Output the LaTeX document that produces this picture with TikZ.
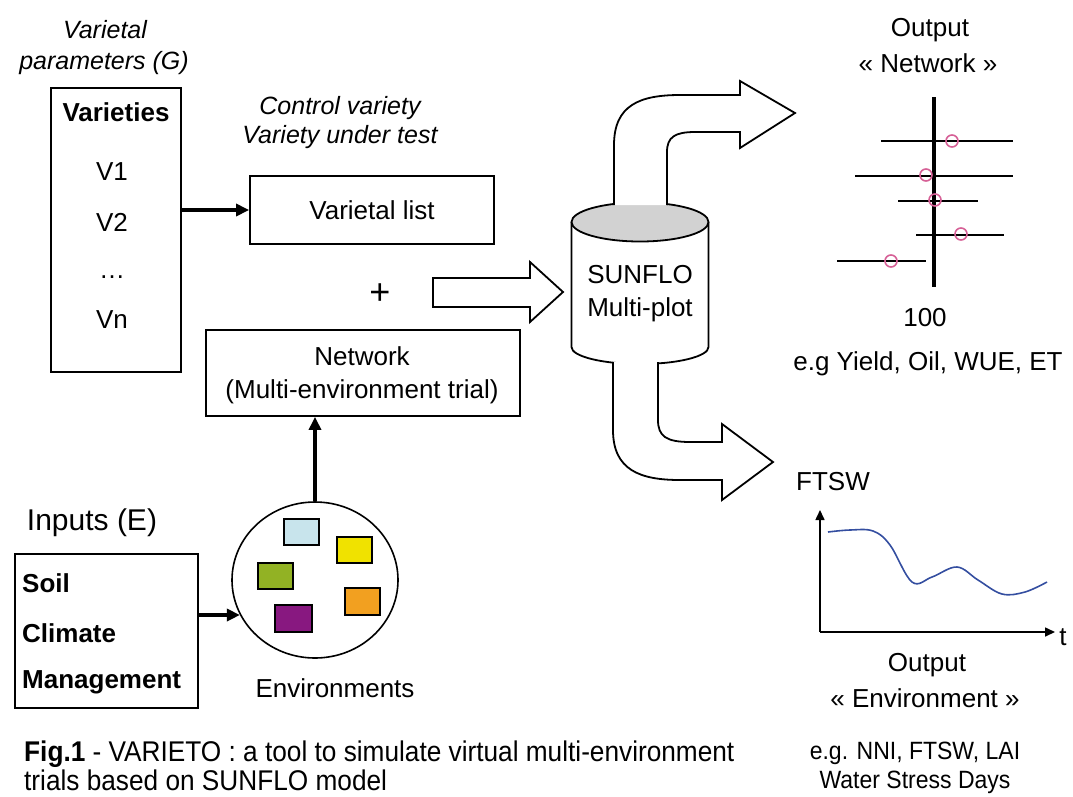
\documentclass[tikz,border=0pt]{standalone}
\usepackage{fontspec}
\setmainfont{Liberation Sans}
\newfontfamily\narrowsans[FakeStretch=0.92]{Liberation Sans}
\usetikzlibrary{arrows.meta,shapes.geometric}
\definecolor{pinkc}{RGB}{214,96,150}
\definecolor{curveblue}{RGB}{52,78,160}
\definecolor{envblue}{RGB}{200,228,236}
\definecolor{envyellow}{RGB}{240,226,0}
\definecolor{envgreen}{RGB}{146,178,36}
\definecolor{envorange}{RGB}{242,160,32}
\definecolor{envpurple}{RGB}{136,24,128}
\begin{document}
\begin{tikzpicture}[x=1pt,y=-1pt,
  txt/.style={font=\fontsize{26}{33}\selectfont, inner sep=0pt, align=center},
  itxt/.style={font=\fontsize{25}{33}\selectfont\itshape, inner sep=0pt, align=center},
  btxt/.style={font=\fontsize{26}{33}\selectfont\bfseries, inner sep=0pt},
  captxt/.style={font=\narrowsans\fontsize{28.5}{33}\selectfont, inner sep=0pt},
  rcaptxt/.style={font=\narrowsans\fontsize{25}{30}\selectfont, inner sep=0pt},
  boxnode/.style={draw, line width=1.8pt, inner sep=0pt},
  arr/.style={line width=3.5pt, -{Triangle[length=13pt,width=12pt]}},
  axarr/.style={line width=1.6pt, -{Triangle[length=10pt,width=9pt]}},
  blk/.style={draw, line width=1.8pt, fill=white, line join=miter},
  envrect/.style={draw, line width=1.5pt},
  errbar/.style={line width=2pt},
  pt/.style={draw=pinkc, line width=1.6pt}
]
\useasboundingbox (0,0) rectangle (1073,796);

% ---- Varietal parameters ----
\node[itxt] (vpar1) at (105,30) {Varietal};
\node[itxt] (vpar2) at (104,63) {parameters (G)};
\node[boxnode, minimum width=130pt, minimum height=284pt] (vbox) at (116,230) {};
\node[btxt] (vhead) at (116,112) {Varieties};
\node[txt] (v1) at (112,172) {V1};
\node[txt] (v2) at (112,222) {V2};
\node[txt] (vdots) at (112,277) {\dots};
\node[txt] (vn) at (112,320) {Vn};

% ---- Varietal list ----
\node[itxt] (ctrl1) at (340,108) {Control variety};
\node[itxt] (ctrl2) at (340,137) {Variety under test};
\node[boxnode, minimum width=244pt, minimum height=68pt] (vlist) at (372,210) {};
\node[txt] (vlisttxt) at (vlist) {Varietal list};
\draw[arr] (vbox.east |- vlist.west) -- (vlist.west);

% ---- plus ----
\node[font=\fontsize{36}{40}\selectfont, inner sep=0pt] (plus) at (380,294) {+};

% ---- Network box ----
\node[boxnode, minimum width=314pt, minimum height=86pt] (net) at (363,373) {};
\node[txt] (nettxt) at (362,375) {Network\\(Multi-environment trial)};

% ---- straight block arrow ----
\draw[blk] (433,278) -- (530,278) -- (530,262) -- (563,292) -- (530,322) -- (530,307) -- (433,307) -- cycle;

% ---- Cylinder ----
\fill[white] (571.5,222) -- (571.5,347) arc[start angle=180,end angle=360,x radius=68.5pt,y radius=17pt] -- (708.5,222) -- cycle;
\draw[line width=1.8pt] (571.5,222) -- (571.5,347) arc[start angle=180,end angle=360,x radius=68.5pt,y radius=17pt] -- (708.5,222);
\draw[line width=1.8pt, fill=gray!35] (640,222) ellipse [x radius=68.5pt, y radius=19.5pt];
\node[txt] (cyl) at (640,294) {SUNFLO\\Multi-plot};

% ---- upper curved block arrow ----
\draw[blk] (614,205) -- (614,145) .. controls (614,105) and (640,95) .. (680,95) -- (740,95) -- (740,81) -- (795,113) -- (740,148) -- (740,132) -- (695,132) .. controls (675,132) and (667,137) .. (667,152) -- (667,205);

% ---- lower curved block arrow ----
\draw[blk] (613,362) -- (613,430) .. controls (613,470) and (640,480) .. (680,480) -- (722,480) -- (722,500) -- (773,462) -- (722,424) -- (722,442) -- (690,442) .. controls (666,442) and (658,436) .. (658,420) -- (658,362);

% ---- Output Network plot ----
\node[txt] (out1) at (930,30) {Output};
\node[txt] (out2) at (928,63) {« Network »};
\draw[errbar] (881,141) -- (1013,141);
\draw[errbar] (855,176) -- (1013,176);
\draw[errbar] (898,201) -- (978,201);
\draw[errbar] (916,235) -- (1004,235);
\draw[errbar] (837,261) -- (926,261);
\draw[line width=4.2pt] (934,97) -- (934,287);
\draw[pt] (952,141) circle[radius=6pt];
\draw[pt] (926,175) circle[radius=6pt];
\draw[pt] (935,200) circle[radius=6pt];
\draw[pt] (961,234) circle[radius=6pt];
\draw[pt] (891,261) circle[radius=6pt];
\node[txt] (hundred) at (925,318) {100};
\node[txt] (eg1) at (928,364) {e.g Yield, Oil, WUE, ET};

% ---- FTSW plot ----
\node[txt] (ftsw) at (833,482) {FTSW};
\coordinate (origin) at (820,632);
\coordinate (ytop) at (820,510);
\coordinate (xend) at (1055,632);
\draw[axarr] (origin) -- (ytop);
\draw[axarr] (origin) -- (xend);
\node[txt] (tlab) at (1063,637) {t};
\draw[curveblue, line width=1.6pt] plot[smooth, tension=0.6] coordinates {(828,532) (850,530) (873,531) (890,545) (912,582) (932,577) (957,567) (978,580) (1002,594) (1025,592) (1047,582)};
\node[txt] (out3) at (927,665) {Output};
\node[txt] (out4) at (925,698) {« Environment »};

% ---- Inputs ----
\node[font=\fontsize{30}{34}\selectfont, inner sep=0pt] (inplab) at (92,523) {Inputs (E)};
\node[boxnode, minimum width=183pt, minimum height=154pt] (inp) at (106.5,631) {};
\node[btxt, anchor=west] (soil) at (22,583) {Soil};
\node[btxt, anchor=west] (clim) at (22,633) {Climate};
\node[btxt, anchor=west] (mgmt) at (22,682) {Management};

% ---- Environments ----
\node[draw, ellipse, line width=1.6pt, minimum width=166pt, minimum height=156pt, inner sep=0pt] (env) at (315,580) {};
\draw[envrect, fill=envblue] (284,519) rectangle (319,545);
\draw[envrect, fill=envyellow] (337,537) rectangle (372,563);
\draw[envrect, fill=envgreen] (258,563) rectangle (293,589);
\draw[envrect, fill=envorange] (345,588) rectangle (380,615);
\draw[envrect, fill=envpurple] (275,605) rectangle (312,632);
\node[txt] (envlab) at (335,688) {Environments};
\draw[arr] (inp.east |- env.205) -- (env.205);
\draw[arr] (env.north) -- (env.north |- net.south);

% ---- captions ----
\node[captxt, anchor=west] (cap1) at (24,754) {\textbf{Fig.1} - VARIETO : a tool to simulate virtual multi-environment};
\node[captxt, anchor=west] (cap2) at (24,780) {trials based on SUNFLO model};
\node[rcaptxt] (eg2) at (915,753) {e.g. NNI, FTSW, LAI};
\node[rcaptxt] (eg3) at (915,782) {Water Stress Days};
\end{tikzpicture}
\end{document}
